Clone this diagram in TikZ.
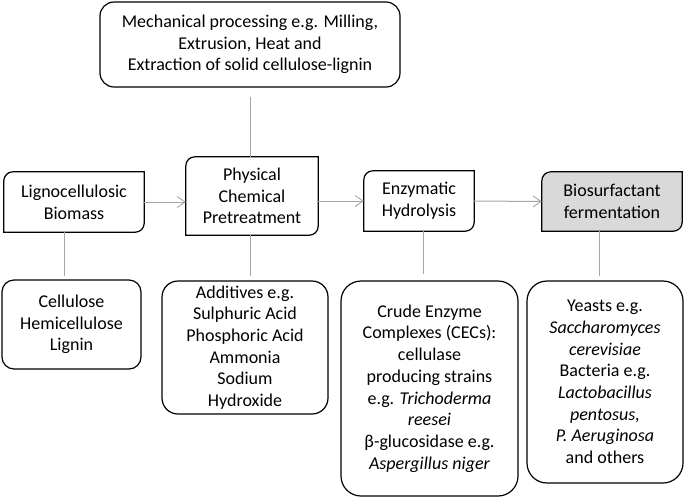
\documentclass[tikz,border=0pt]{standalone}
\usepackage{fontspec}
\setmainfont{Carlito}
\usetikzlibrary{arrows.meta,calc,backgrounds}
\definecolor{connc}{HTML}{A6A6A6}
\definecolor{biofill}{HTML}{D9D9D9}
\newcommand\drawdiag[2][]{\draw[boxline,#1] (#2.north east) -- ($(#2.south east)+(0,-9)$) .. controls ($(#2.south east)+(0,-4)$) and ($(#2.south east)+(-4,0)$) .. ($(#2.south east)+(-9,0)$) -- (#2.south west) -- ($(#2.north west)+(0,9)$) .. controls ($(#2.north west)+(0,4)$) and ($(#2.north west)+(4,0)$) .. ($(#2.north west)+(9,0)$) -- cycle;}
\begin{document}
\begin{tikzpicture}[x=1pt,y=-1pt,
  every node/.style={font=\fontsize{18}{21.7}\selectfont, align=center, inner sep=0pt, text=black},
  boxline/.style={draw=black, line width=1.2pt, line join=miter},
  rbox/.style={boxline, rounded corners=#1},
  conn/.style={draw=connc, line width=1pt},
  arr/.style={conn, -{Straight Barb[length=8pt,width=11pt,line width=0.9pt]}}]
\useasboundingbox (0,0) rectangle (685,499);

\node[rbox=14pt, minimum width=300pt, minimum height=85pt] (mech) at (250,44.5)
  {Mechanical processing e.g. Milling,\\Extrusion, Heat and\\Extraction of solid cellulose-lignin};

\node[minimum width=140pt, minimum height=60pt] (lig) at (74,202) {Lignocellulosic\\Biomass};
\node[minimum width=132pt, minimum height=78pt] (phys) at (252,196) {Physical\\Chemical\\Pretreatment};
\node[minimum width=110pt, minimum height=60pt] (enz) at (419,201) {Enzymatic\\Hydrolysis};
\node[minimum width=140pt, minimum height=59pt] (bio) at (612,201.5) {Biosurfactant\\fermentation};

\begin{scope}[on background layer]
\drawdiag{lig}
\drawdiag{phys}
\drawdiag{enz}
\drawdiag[fill=biofill]{bio}
\end{scope}

\node[rbox=12pt, minimum width=139pt, minimum height=89pt] (cell) at (71.5,324.5)
  {Cellulose\\Hemicellulose\\Lignin};
\node[rbox=16pt, minimum width=166pt, minimum height=133pt] (add) at (245,347.5)
  {Additives e.g.\\Sulphuric Acid\\Phosphoric Acid\\Ammonia\\Sodium\\Hydroxide};
\node[rbox=20pt, minimum width=177pt, minimum height=215pt] (crude) at (429.5,388.5)
  {Crude Enzyme\\Complexes (CECs):\\cellulase\\producing strains\\e.g. \textit{Trichoderma}\\\textit{reesei}\\β-glucosidase e.g.\\\textit{Aspergillus niger}};
\node[rbox=20pt, minimum width=156pt, minimum height=202pt] (yeast) at (605,382)
  {Yeasts e.g.\\\textit{Saccharomyces}\\\textit{cerevisiae}\\Bacteria e.g.\\\textit{Lactobacillus}\\\textit{pentosus,}\\\textit{P. Aeruginosa}\\and others};

\draw[conn, shorten <=9pt] (mech.south) -- (mech.south |- phys.north);
\draw[conn, shorten >=3pt] ([xshift=-10pt]lig.south) -- ([xshift=-10pt]lig.south |- cell.north);
\draw[conn, shorten >=4pt] ([xshift=-2pt]phys.south) -- ([xshift=-2pt]phys.south |- add.north);
\draw[conn, shorten >=6pt] ([xshift=4pt]enz.south) -- ([xshift=4pt]enz.south |- crude.north);
\draw[conn, shorten >=4pt] ([xshift=-13pt]bio.south) -- ([xshift=-13pt]bio.south |- yeast.north);

\draw[arr] (lig.east) -- (lig.east -| phys.west);
\draw[arr] (enz.west -| phys.east) -- (enz.west);
\draw[arr] (enz.east) -- (bio.west);
\end{tikzpicture}
\end{document}
